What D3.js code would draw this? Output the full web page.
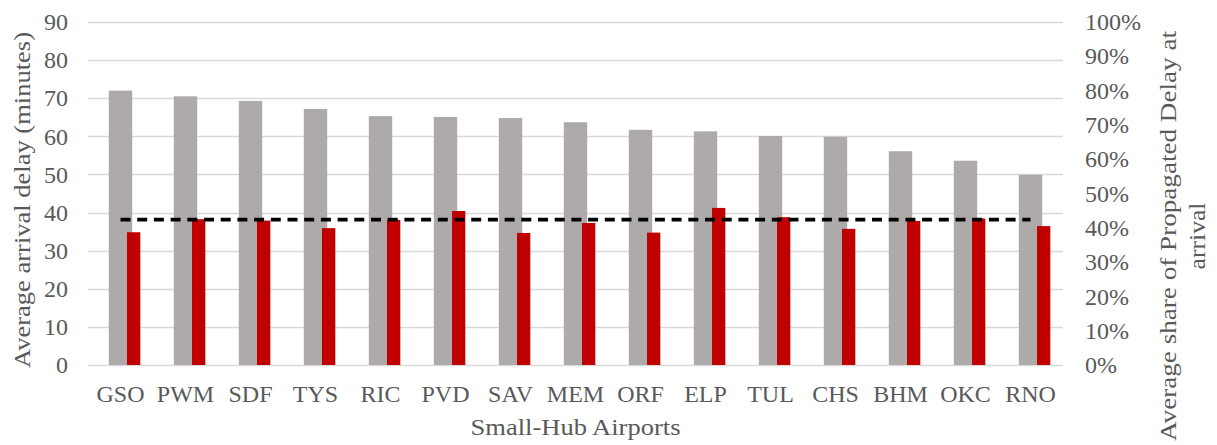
<!DOCTYPE html>
<html>
<head>
<meta charset="utf-8">
<script src="https://cdn.jsdelivr.net/npm/d3@7"></script>
<style>
  html, body { margin: 0; padding: 0; background: #fff; }
  svg { display: block; font-family: "Liberation Serif", "Times New Roman", serif; }
  svg text { font-family: "Liberation Serif", "Times New Roman", serif; fill: #595959; }
</style>
</head>
<body>
<svg id="chart" width="1217" height="445"></svg>
<script>
// Small-hub airports, ordered by average arrival delay
const airports = ["GSO", "PWM", "SDF", "TYS", "RIC", "PVD", "SAV", "MEM", "ORF", "ELP", "TUL", "CHS", "BHM", "OKC", "RNO"];
// Average arrival delay (minutes), left axis
const arrivalDelay = [72.0, 70.5, 69.3, 67.2, 65.3, 65.1, 64.8, 63.7, 61.7, 61.3, 60.1, 59.9, 56.1, 53.6, 49.9];
// Average share of propagated delay at arrival, right axis
const propagatedShare = [0.387, 0.425, 0.421, 0.399, 0.423, 0.449, 0.385, 0.414, 0.386, 0.458, 0.431, 0.397, 0.420, 0.427, 0.405];
// Overall average share of propagated delay (dashed reference line)
const overallShare = [0.424, 0.424, 0.424, 0.424, 0.424, 0.424, 0.424, 0.424, 0.424, 0.424, 0.424, 0.424, 0.424, 0.424, 0.424];
// Tick values
const delayTicks = [0, 10, 20, 30, 40, 50, 60, 70, 80, 90];
const shareTicks = [0, 0.1, 0.2, 0.3, 0.4, 0.5, 0.6, 0.7, 0.8, 0.9, 1.0];

const svg = d3.select("#chart");
const plot = { left: 88, right: 1063, top: 22, bottom: 365 };
const FONT = "Liberation Serif";

const x = d3.scaleBand().domain(airports).range([plot.left, plot.right]).paddingInner(0).paddingOuter(0);
const yLeft = d3.scaleLinear().domain([0, 90]).range([plot.bottom, plot.top]);
const yRight = d3.scaleLinear().domain([0, 1]).range([plot.bottom, plot.top]);

const bw = x.bandwidth();
const greyW = bw * 0.36;
const redW = bw * 0.205;
const redOffset = bw * 0.1;
const center = d => x(d) + bw / 2;

// Horizontal gridlines
svg.append("g")
  .selectAll("line")
  .data(delayTicks)
  .join("line")
  .attr("x1", plot.left).attr("x2", plot.right)
  .attr("y1", d => Math.round(yLeft(d)) + 0.5).attr("y2", d => Math.round(yLeft(d)) + 0.5)
  .attr("stroke", "#d9d9d9").attr("stroke-width", 1.4);

function styleTicks(g) {
  g.select(".domain").remove();
  g.attr("font-family", FONT).attr("font-size", 24);
  g.selectAll("text").attr("fill", "#595959").attr("font-family", FONT).attr("font-size", 24);
}

// Left axis tick labels
const leftAxis = d3.axisLeft(yLeft).tickValues(delayTicks).tickSize(0).tickPadding(0).tickFormat(d3.format("d"));
const gl = svg.append("g").attr("transform", `translate(${plot.left - 20},0)`).call(leftAxis);
styleTicks(gl);
gl.selectAll("text").attr("dy", "0.32em");

// Right axis tick labels
const rightAxis = d3.axisRight(yRight).tickValues(shareTicks).tickSize(0).tickPadding(0).tickFormat(d3.format(".0%"));
const gr = svg.append("g").attr("transform", `translate(${plot.right + 22},0)`).call(rightAxis);
styleTicks(gr);
gr.selectAll("text").attr("dy", "0.32em");

// Category labels
const bottomAxis = d3.axisBottom(x).tickSize(0).tickPadding(0);
const gb = svg.append("g").attr("transform", `translate(0,${plot.bottom})`).call(bottomAxis);
styleTicks(gb);
gb.selectAll("text").attr("y", 36.5).attr("dy", 0);

// Grey bars: average arrival delay
svg.append("g")
  .selectAll("rect")
  .data(airports)
  .join("rect")
  .attr("x", d => center(d) - greyW / 2)
  .attr("width", greyW)
  .attr("y", (d, i) => yLeft(arrivalDelay[i]))
  .attr("height", (d, i) => yLeft(0) - yLeft(arrivalDelay[i]))
  .attr("fill", "#aeaaaa");

// Red bars: share of propagated delay
svg.append("g")
  .selectAll("rect")
  .data(airports)
  .join("rect")
  .attr("x", d => center(d) + redOffset)
  .attr("width", redW)
  .attr("y", (d, i) => yRight(propagatedShare[i]))
  .attr("height", (d, i) => yRight(0) - yRight(propagatedShare[i]))
  .attr("fill", "#c00000");

// Dashed overall-average line
const line = d3.line()
  .x((d, i) => center(airports[i]))
  .y(d => yRight(d));
svg.append("path")
  .datum(overallShare)
  .attr("d", line)
  .attr("fill", "none")
  .attr("stroke", "#000")
  .attr("stroke-width", 3.8)
  .attr("stroke-dasharray", "10,6.7");

// Axis titles
svg.append("text")
  .attr("transform", "translate(30,200) rotate(-90)")
  .attr("text-anchor", "middle")
  .attr("font-family", FONT)
  .attr("font-size", 24)
  .attr("textLength", 336)
  .attr("lengthAdjust", "spacingAndGlyphs")
  .text("Average arrival delay (minutes)");

const rt = svg.append("text")
  .attr("transform", "translate(1176,236) rotate(-90)")
  .attr("text-anchor", "middle")
  .attr("font-family", FONT)
  .attr("font-size", 24);
rt.append("tspan").attr("x", 0).attr("y", 0)
  .attr("textLength", 410).attr("lengthAdjust", "spacingAndGlyphs")
  .text("Average share of Propagated Delay at");
rt.append("tspan").attr("x", 0).attr("y", 29)
  .attr("textLength", 67).attr("lengthAdjust", "spacingAndGlyphs")
  .text("arrival");

svg.append("text")
  .attr("x", (plot.left + plot.right) / 2)
  .attr("y", 435)
  .attr("text-anchor", "middle")
  .attr("font-family", FONT)
  .attr("font-size", 24)
  .attr("textLength", 210)
  .attr("lengthAdjust", "spacingAndGlyphs")
  .text("Small-Hub Airports");
</script>
</body>
</html>
